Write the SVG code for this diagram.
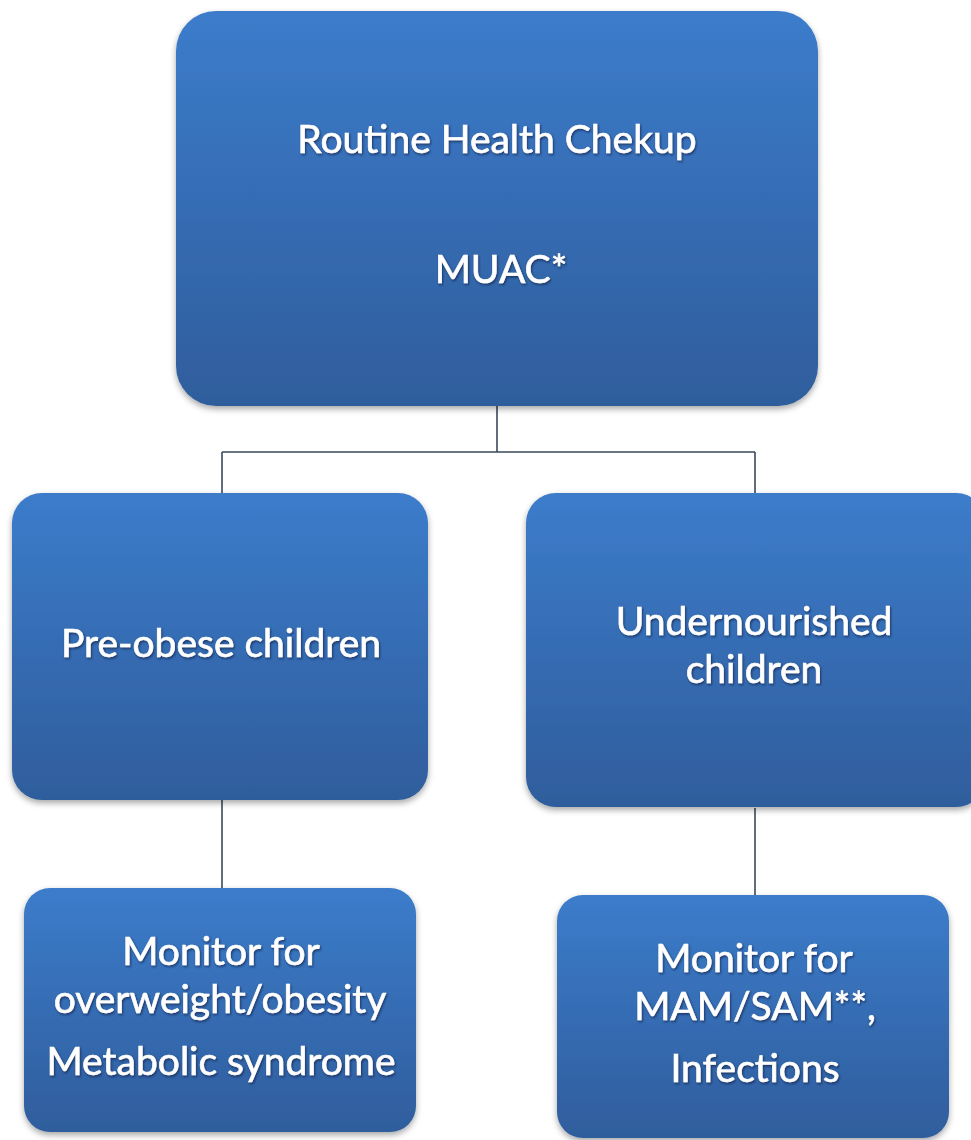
<svg xmlns="http://www.w3.org/2000/svg" width="971" height="1140" viewBox="0 0 971 1140">
<defs>
<linearGradient id="g" x1="0" y1="0" x2="0" y2="1">
<stop offset="0" stop-color="#3c7ccb"/>
<stop offset="1" stop-color="#2f5d9c"/>
</linearGradient>
<filter id="sh" x="-5%" y="-5%" width="110%" height="115%">
<feDropShadow dx="0" dy="3" stdDeviation="3" flood-color="#000" flood-opacity="0.35"/>
</filter>
<filter id="ts" x="-5%" y="-20%" width="110%" height="140%">
<feDropShadow dx="1" dy="1.5" stdDeviation="0.8" flood-color="#0a1f40" flood-opacity="0.7"/>
</filter>
</defs>
<style>
.box{fill:url(#g);filter:url(#sh)}
.t{fill:#fff;stroke:#fff;stroke-width:0.6;font-family:Lato,"Open Sans","Liberation Sans",sans-serif;font-size:39px;text-anchor:middle;filter:url(#ts)}
.c{fill:none;stroke:#3a4a5c;stroke-width:1.6}
</style>
<rect width="971" height="1140" fill="#fff"/>
<g id="connectors">
<path class="c" d="M497 406V452M222 452H755M222 452V493M755 452V493"/>
<path class="c" d="M222 800V888"/>
<path class="c" d="M755 808V895"/>
</g>
<g id="n-routine">
<rect class="box" x="176" y="11" width="642" height="395" rx="40"/>
<text class="t" x="497" y="153">Routine Health  Chekup</text>
<text class="t" x="501" y="283">MUAC*</text>
</g>
<g id="n-preobese">
<rect class="box" x="12" y="493" width="416" height="307" rx="30"/>
<text class="t" x="221" y="657">Pre-obese children</text>
</g>
<g id="n-under">
<rect class="box" x="526" y="493" width="460" height="314" rx="30"/>
<text class="t" x="754" y="635">Undernourished</text>
<text class="t" x="754" y="683">children</text>
</g>
<g id="n-monitor-obese">
<rect class="box" x="24" y="888" width="392" height="244" rx="26"/>
<text class="t" x="221" y="965">Monitor for</text>
<text class="t" x="220" y="1013">overweight/obesity</text>
<text class="t" x="221" y="1075">Metabolic syndrome</text>
</g>
<g id="n-monitor-under">
<rect class="box" x="557" y="895" width="392" height="243" rx="26"/>
<text class="t" x="754" y="972">Monitor for</text>
<text class="t" x="755" y="1020">MAM/SAM**,</text>
<text class="t" x="755" y="1082">Infections</text>
</g>
</svg>
